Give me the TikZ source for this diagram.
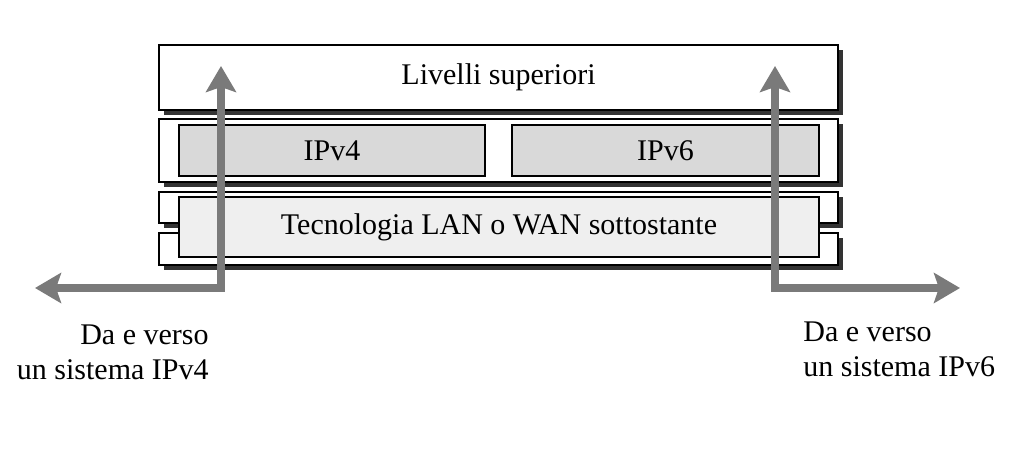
\documentclass[tikz,border=0pt]{standalone}
\usepackage{fontspec}
\setmainfont{Liberation Serif}
\usepackage{xcolor}
\usepackage{tikz}
\usetikzlibrary{arrows.meta,shadows}
\definecolor{shade}{HTML}{333333}
\definecolor{flowgray}{HTML}{7A7A7A}
\definecolor{ipfill}{HTML}{D9D9D9}
\definecolor{lanfill}{HTML}{EFEFEF}
\tikzset{
  layer/.style={draw=black, fill=white, line width=0.9pt, inner sep=0pt, outer sep=0pt,
    minimum width=339.5pt, drop shadow={shadow xshift=2.6pt, shadow yshift=-2.6pt, fill=shade, opacity=1}},
  ipbox/.style={draw=black, fill=ipfill, line width=0.9pt, inner sep=0pt, minimum height=25.5pt},
  lanbox/.style={draw=black, fill=lanfill, line width=0.9pt, inner sep=0pt, minimum width=320pt, minimum height=30pt},
  flow/.style={draw=flowgray, line width=4pt,
    {Stealth[length=13pt,width=15pt,inset=2.5pt]}-{Stealth[length=13pt,width=15pt,inset=2.5pt]}},
  lab/.style={font=\fontsize{15}{17.5}\selectfont, inner sep=0pt},
}

\begin{document}
\begin{tikzpicture}[x=0.5pt,y=-0.5pt]
  \useasboundingbox (0,0) rectangle (1014,465);

  % stack of layers
  \node[layer,minimum height=32.5pt,lab] (sup) at (498.5,77.5) {Livelli superiori};
  \node[layer,minimum height=31.5pt] (net) at (498.5,150.5) {};
  \node[layer,minimum height=15.5pt] (linka) at (498.5,207.5) {};
  \node[layer,minimum height=16pt] (linkb) at (498.5,249) {};

  \node[ipbox,minimum width=153pt,lab] (ipvfour) at (332,150.5) {IPv4};
  \node[ipbox,minimum width=153.5pt,lab] (ipvsix) at (665.5,150.5) {IPv6};
  \node[lanbox,lab] (lan) at (499,227) {Tecnologia LAN o WAN sottostante};

  % flows
  \coordinate (lin) at (35,288);
  \coordinate (lcorner) at (221,288);
  \coordinate (lup) at (221,66);
  \coordinate (rup) at (775,66);
  \coordinate (rcorner) at (775,288);
  \coordinate (rout) at (960,288);
  \draw[flow] (lin) -- (lcorner) -- (lup);
  \draw[flow] (rup) -- (rcorner) -- (rout);

  \node[lab,align=right,anchor=east] (fourlab) at (209,352) {Da e verso\\un sistema IPv4};
  \node[lab,align=left,anchor=west] (sixlab) at (803,349) {Da e verso\\un sistema IPv6};
\end{tikzpicture}
\end{document}
